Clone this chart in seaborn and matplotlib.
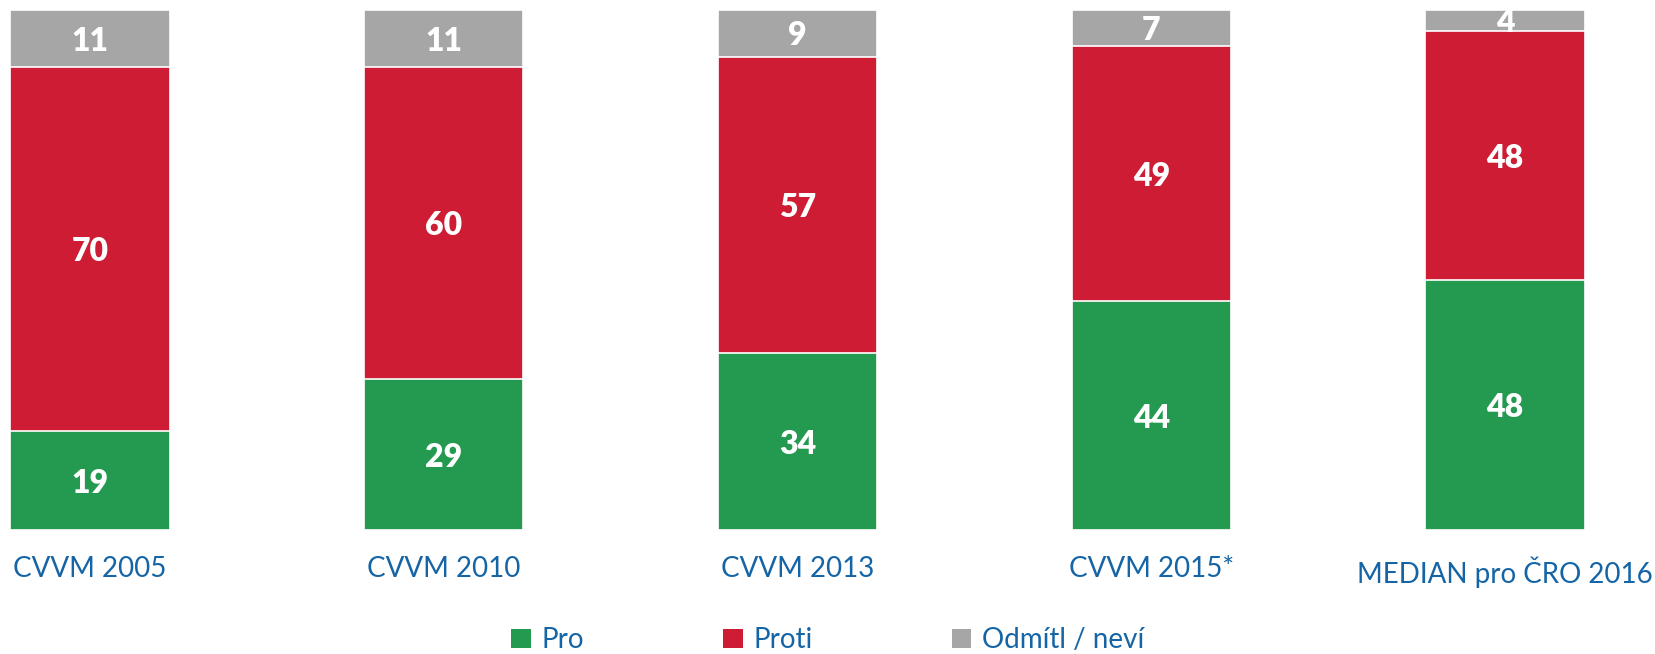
import pandas as pd
import matplotlib.pyplot as plt
import seaborn as sns
import numpy as np
from matplotlib.patches import Patch

# Survey data (percent)
surveys = ['CVVM 2005', 'CVVM 2010', 'CVVM 2013', 'CVVM 2015*', 'MEDIAN pro ČRO 2016']
pro = [19, 29, 34, 44, 48]
proti = [70, 60, 57, 49, 48]
nevi = [11, 11, 9, 7, 4]

series_names = ['Pro', 'Proti', 'Odmítl / neví']
colors = ['#249A50', '#CE1C35', '#A6A6A6']
text_blue = '#1565A6'

df = pd.DataFrame({'survey': surveys, 'Pro': pro, 'Proti': proti, 'Odmítl / neví': nevi})
df['cum_pro'] = df['Pro']
df['cum_proti'] = df['Pro'] + df['Proti']
df['cum_all'] = df['cum_proti'] + df['Odmítl / neví']

sns.set_theme(style='white')
plt.rcParams['font.family'] = ['Lato', 'DejaVu Sans']

fig = plt.figure(figsize=(16.56, 6.54), dpi=100)
ax = fig.add_axes([0, 1 - 530 / 654, 1, 520 / 654])

# stacked bars: draw cumulative totals from the top down
for col, c in zip(['cum_all', 'cum_proti', 'cum_pro'], colors[::-1]):
    sns.barplot(data=df, x='survey', y=col, color=c, width=0.45,
                edgecolor='white', linewidth=1.2, ax=ax, saturation=1)

# segment labels
for i in range(len(surveys)):
    bottoms = [0, df['cum_pro'][i], df['cum_proti'][i]]
    for b, v in zip(bottoms, [pro[i], proti[i], nevi[i]]):
        ax.text(i, b + v / 2, str(v), ha='center', va='center_baseline', color='white',
                fontsize=23, fontweight='heavy')

ax.set_ylim(0, 100)
ax.set_xlim(-90 / 353.75, 4 + 151 / 353.75)
ax.set_xlabel('')
ax.set_ylabel('')
ax.set_yticks([])
ax.tick_params(axis='x', length=0, pad=19, labelsize=20, labelcolor=text_blue)
sns.despine(ax=ax, left=True, bottom=True)

handles = [Patch(facecolor=c, edgecolor='none') for c in colors]
leg = fig.legend(handles, series_names, loc='center', bbox_to_anchor=(0.5, 1 - 640 / 654),
                 ncol=3, frameon=False, fontsize=20, handlelength=0.7, handleheight=0.7,
                 handletextpad=0.4, columnspacing=5.0)
for t in leg.get_texts():
    t.set_color(text_blue)

plt.savefig('out.png', dpi=100)
